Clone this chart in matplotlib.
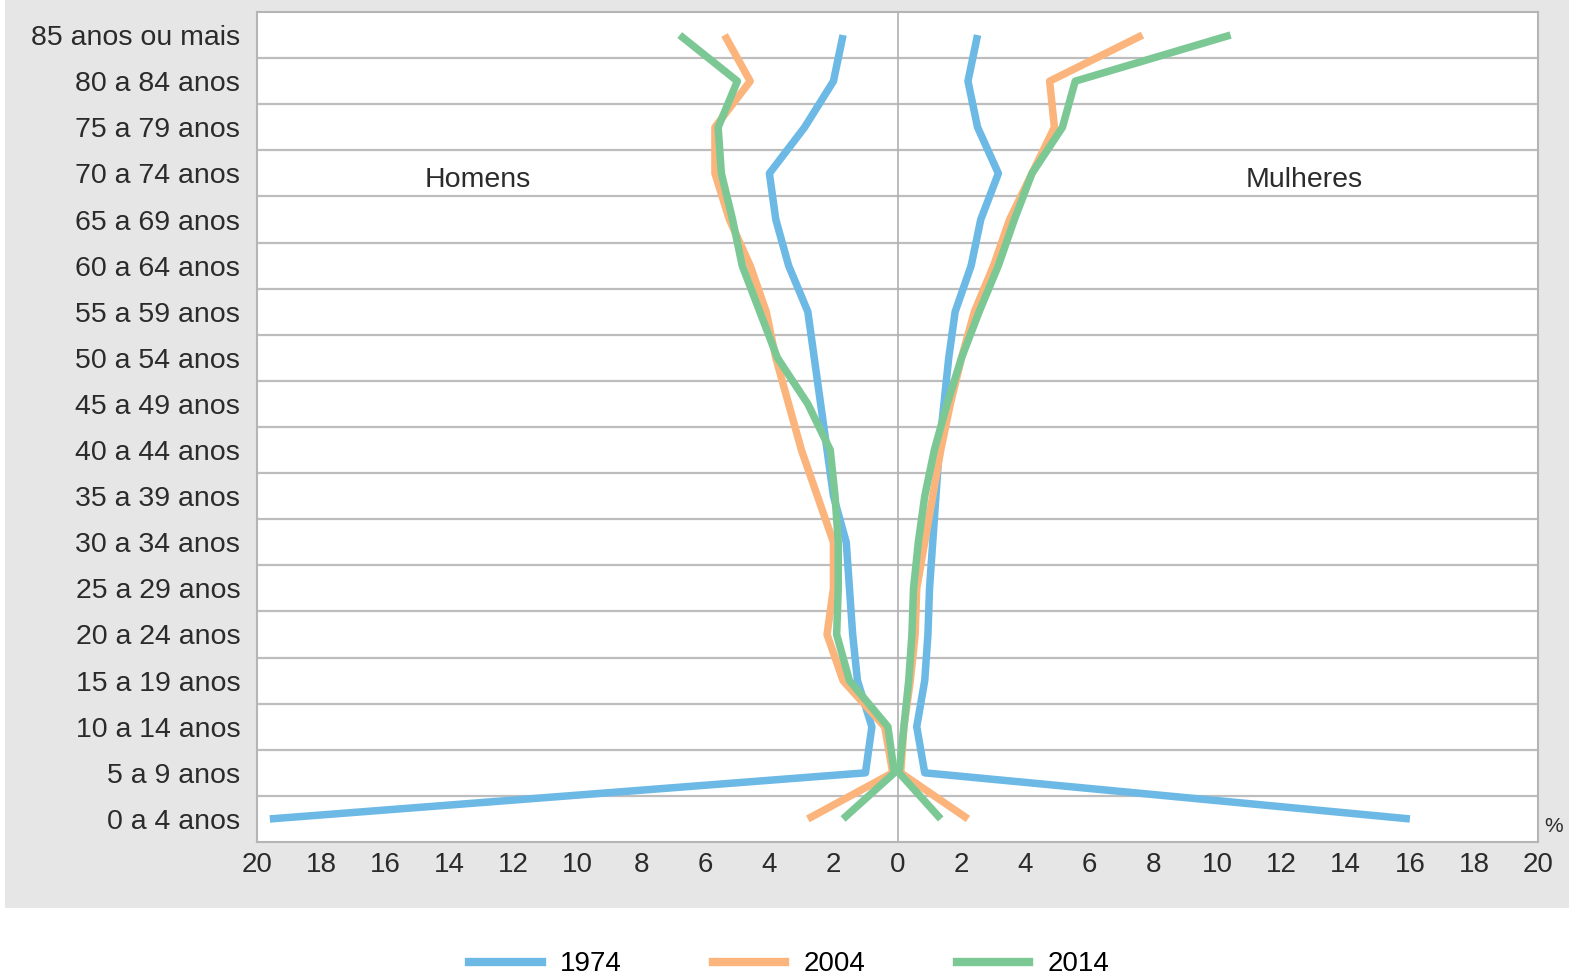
import matplotlib
matplotlib.use('Agg')
import matplotlib.pyplot as plt
from matplotlib.patches import Rectangle
from matplotlib.lines import Line2D
import numpy as np

# Age groups from youngest to oldest
ages = ['0 a 4 anos', '5 a 9 anos', '10 a 14 anos', '15 a 19 anos', '20 a 24 anos',
        '25 a 29 anos', '30 a 34 anos', '35 a 39 anos', '40 a 44 anos', '45 a 49 anos',
        '50 a 54 anos', '55 a 59 anos', '60 a 64 anos', '65 a 69 anos', '70 a 74 anos',
        '75 a 79 anos', '80 a 84 anos', '85 anos ou mais']

# Percentages (men on the left, women on the right)
men_1974 = [19.6, 1.0, 0.8, 1.25, 1.4, 1.5, 1.6, 2.0, 2.2, 2.4, 2.6, 2.8, 3.4, 3.8, 4.0, 2.9, 2.0, 1.7]
women_1974 = [16.0, 0.85, 0.6, 0.85, 0.95, 1.0, 1.1, 1.2, 1.3, 1.45, 1.6, 1.8, 2.3, 2.6, 3.15, 2.5, 2.2, 2.5]
men_2004 = [2.8, 0.15, 0.4, 1.7, 2.2, 2.0, 2.0, 2.5, 3.0, 3.4, 3.8, 4.1, 4.6, 5.25, 5.7, 5.7, 4.6, 5.4]
women_2004 = [2.2, 0.1, 0.2, 0.4, 0.55, 0.6, 0.85, 1.1, 1.35, 1.65, 2.0, 2.4, 3.0, 3.5, 4.2, 4.9, 4.75, 7.65]
men_2014 = [1.7, 0.1, 0.3, 1.5, 1.9, 1.85, 1.85, 1.95, 2.1, 2.8, 3.75, 4.3, 4.85, 5.15, 5.5, 5.6, 5.0, 6.8]
women_2014 = [1.35, 0.05, 0.2, 0.35, 0.45, 0.5, 0.65, 0.85, 1.15, 1.55, 2.0, 2.55, 3.15, 3.65, 4.2, 5.15, 5.55, 10.4]

years = ['1974', '2004', '2014']
colors = ['#6cb9e6', '#fbb57c', '#7cc895']
font = ['Liberation Sans', 'DejaVu Sans']
txt_color = '#2b2b2b'

fig = plt.figure(figsize=(15.69, 9.76), dpi=100)
fig.patches.append(Rectangle((5 / 1569, 68 / 976), 1, 1, transform=fig.transFigure,
                             facecolor='#e6e6e6', edgecolor='none', zorder=-1))
ax = fig.add_axes([257 / 1569, 134 / 976, 1281 / 1569, 830 / 976])
ax.set_facecolor('white')

y = np.arange(len(ages))
series = [(men_1974, women_1974), (men_2004, women_2004), (men_2014, women_2014)]
for (m, w), c in zip(series, colors):
    ax.plot(-np.array(m), y, color=c, lw=5.4, solid_capstyle='butt', zorder=3)
    ax.plot(w, y, color=c, lw=5.4, solid_capstyle='butt', zorder=3)

ax.set_xlim(-20, 20)
ax.set_ylim(-0.5, len(ages) - 0.5)

# band separators and centre line
for b in np.arange(0.5, len(ages) - 0.5, 1):
    ax.axhline(b, color='#bdbdbd', lw=1.6, zorder=1)
ax.axvline(0, color='#b0b0b0', lw=1.2, zorder=1)

ticks = np.arange(-20, 21, 2)
ax.set_xticks(ticks)
ax.set_xticklabels([str(abs(t)) for t in ticks], fontsize=20, family=font, color=txt_color)
ax.set_xticks([0], minor=True)
ax.tick_params(axis='x', which='minor', length=4, width=1.5, color='#333333', direction='out')
ax.set_yticks(y)
ax.set_yticklabels(ages, fontsize=20.5, family=font, color=txt_color)
ax.tick_params(axis='both', which='major', length=0)
ax.tick_params(axis='y', pad=12)
ax.tick_params(axis='x', pad=7)
for s in ax.spines.values():
    s.set_color('#b5b5b5')
    s.set_linewidth(1.5)

ax.text(-13.1, 13.85, 'Homens', fontsize=20.5, ha='center', va='center', family=font, color=txt_color)
ax.text(12.7, 13.85, 'Mulheres', fontsize=20.5, ha='center', va='center', family=font, color=txt_color)
ax.text(1.005, 0.019, '%', transform=ax.transAxes, fontsize=15, ha='left', va='center',
        family=font, color=txt_color)

handles = [Line2D([], [], color=c, lw=6) for c in colors]
fig.legend(handles, years, loc='center', bbox_to_anchor=(0.503, 0.012), ncol=3, frameon=False,
           handlelength=2.6, columnspacing=3.3, handletextpad=0.65,
           prop={'family': font, 'size': 20})

fig.savefig('out.png', dpi=100)
